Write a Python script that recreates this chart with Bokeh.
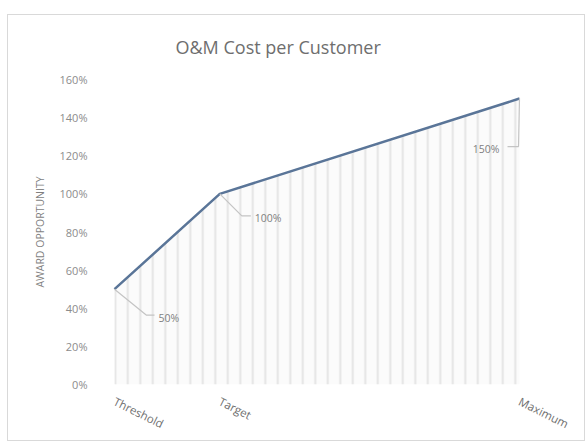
from bokeh.plotting import figure
from bokeh.models import FixedTicker, NumeralTickFormatter, Range1d, ColumnDataSource
from bokeh.core.properties import value
from bokeh.embed import file_html
from bokeh.resources import INLINE

# ---- data ----
categories = ["Threshold", "Target", "Maximum"]
performance_scale = [0, 26, 100]
award = [0.5, 1.0, 1.5]
y_ticks = [0.0, 0.2, 0.4, 0.6, 0.8, 1.0, 1.2, 1.4, 1.6]
title_text = "O&M Cost per Customer"
y_title = "AWARD OPPORTUNITY"

FONT = "Open Sans"

FW, FH = 440, 305
x0, x1 = -3.21, 105.43
y0, y1 = 0.0, 1.6

p = figure(frame_width=FW, frame_height=FH,
           min_border_left=93, min_border_right=43, min_border_top=64, min_border_bottom=55,
           x_range=Range1d(x0, x1), y_range=Range1d(y0, y1),
           output_backend="svg", toolbar_location=None,
           background_fill_color="white", border_fill_color="white")
p.margin = (14, 4, 3, 7)
p.styles = {"border": "1px solid #d9d9d9"}
p.outline_line_color = None
p.grid.visible = False

p.title.text = title_text
p.title.text_font = FONT
p.title.text_font_size = "18px"
p.title.text_font_style = "normal"
p.title.text_color = "#6e6e6e"
p.title.align = "left"
p.title.offset = 74
p.title.standoff = 38
p.title.vertical_align = "top"
p.title.text_line_height = 1.0

# y axis
ya = p.yaxis[0]
ya.ticker = FixedTicker(ticks=y_ticks)
ya.formatter = NumeralTickFormatter(format="0%")
ya.axis_line_color = None
ya.major_tick_line_color = None
ya.minor_tick_line_color = None
ya.major_label_text_font = FONT
ya.major_label_text_font_size = "11px"
ya.major_label_text_color = "#8c8c8c"
ya.major_label_standoff = 8
ya.axis_label = y_title
ya.axis_label_text_font = FONT
ya.axis_label_text_font_size = "10.5px"
ya.axis_label_text_font_style = "normal"
ya.axis_label_text_color = "#7f7f7f"
ya.axis_label_standoff = 10

# x axis
xa = p.xaxis[0]
xa.ticker = FixedTicker(ticks=performance_scale)
xa.major_label_overrides = {v: c for v, c in zip(performance_scale, categories)}
xa.major_label_orientation = -0.46
xa.axis_line_color = None
xa.major_tick_line_color = None
xa.minor_tick_line_color = None
xa.major_label_text_font = FONT
xa.major_label_text_font_size = "11.5px"
xa.major_label_text_color = "#6f6f6f"
xa.major_label_standoff = 10

src = ColumnDataSource(dict(x=performance_scale, y=award))

# striped area under the line
p.varea(x="x", y1=0, y2="y", source=src, fill_color="#fbfbfb",
        hatch_pattern="vertical_line", hatch_color="#e4e4e4",
        hatch_weight=2, hatch_scale=12.5)

p.line(x="x", y="y", source=src, line_color="#5a7598", line_width=2.5)

# leader lines, computed from pixel offsets
pxx = FW / (x1 - x0)
pxy = FH / (y1 - y0)
leader_px = [[(0, 0), (32, 26), (40, 26)],
             [(0, 0), (22, 22), (31, 22)],
             [(0, 0), (-1, 48), (-12, 48)]]
xs, ys = [], []
for xv, yv, pts in zip(performance_scale, award, leader_px):
    xs.append([xv + dx / pxx for dx, dy in pts])
    ys.append([yv - dy / pxy for dx, dy in pts])
p.multi_line(xs=xs, ys=ys, line_color="#c4c4c4", line_width=1.2)

label_dx = [44, 35, -20]
label_dy = [29, 24, 50]
label_align = ["left", "left", "right"]
src2 = ColumnDataSource(dict(x=performance_scale, y=award,
                             lbl=["{:.0f}%".format(a * 100) for a in award],
                             dx=label_dx, dy=label_dy, al=label_align))
p.text(x="x", y="y", text="lbl", source=src2, x_offset="dx", y_offset="dy",
       text_align="al", text_baseline="middle",
       text_font=value(FONT), text_font_size="10.5px", text_color="#7f7f7f")

open("out.html", "w").write(file_html(p, INLINE))
